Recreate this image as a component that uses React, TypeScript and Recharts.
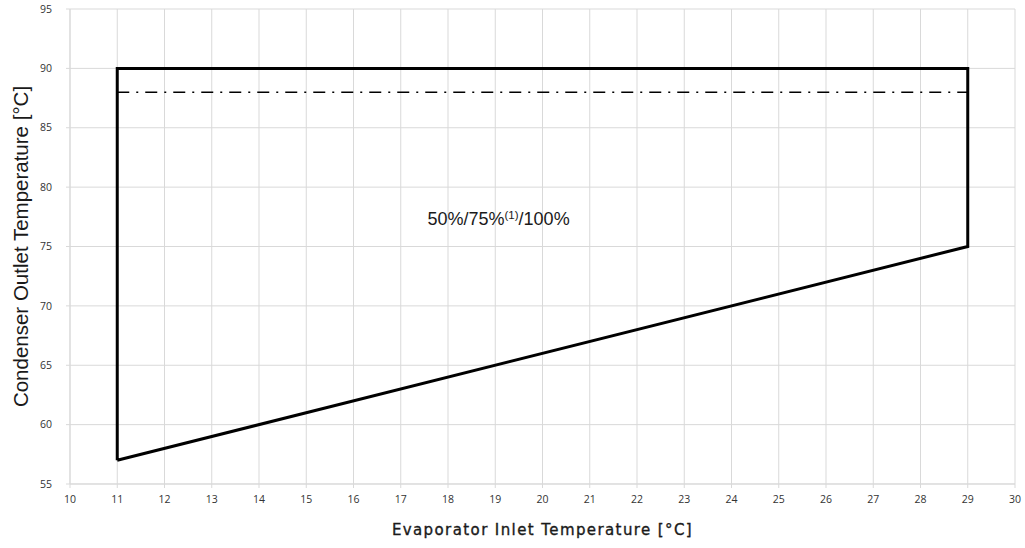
import {
  CartesianGrid,
  ComposedChart,
  Line,
  ReferenceDot,
  XAxis,
  YAxis,
} from "recharts";

// operating envelope, drawn in order and closed back to the first point
const envelopeX = [11, 11, 29, 29, 11];
const envelopeY = [57, 90, 90, 75, 57];

// dash-dot limit line
const limitX = [11, 29];
const limitY = [88, 88];

const xTicks = [10, 11, 12, 13, 14, 15, 16, 17, 18, 19, 20, 21, 22, 23, 24, 25, 26, 27, 28, 29, 30];
const yTicks = [55, 60, 65, 70, 75, 80, 85, 90, 95];

const noteX = 19.07;
const noteY = 77.3;

const envelope = envelopeX.map((x, i) => ({ x, y: envelopeY[i] }));
const limit = limitX.map((x, i) => ({ x, y: limitY[i] }));

const grey = "#d9d9d9";
const tickStyle = { fontSize: 10.5, fill: "#333", fontFamily: "'Open Sans', sans-serif" };

const Note = ({ cx, cy }: { cx?: number; cy?: number }) => (
  <text
    x={cx}
    y={cy}
    textAnchor="middle"
    dominantBaseline="central"
    fontFamily="'Liberation Sans', Arial, sans-serif"
    fontSize={18}
    fill="#1a1a1a"
  >
    50%/75%
    <tspan fontSize={11.5} dy={-4}>(1)</tspan>
    <tspan dy={4}>/100%</tspan>
  </text>
);

export default function App() {
  return (
    <div style={{ width: 1025, height: 548, background: "#fff" }}>
      <style>{`body{margin:0}`}</style>
      <ComposedChart
        width={1025}
        height={548}
        margin={{ top: 9, right: 10, bottom: 0, left: 0 }}
      >
        <CartesianGrid stroke={grey} strokeWidth={1} />
        <XAxis
          dataKey="x"
          type="number"
          domain={[10, 30]}
          ticks={xTicks}
          interval={0}
          height={64}
          stroke={grey}
          tickSize={4}
          tickMargin={8}
          tick={tickStyle}
          label={{
            value: "Evaporator Inlet Temperature [°C]",
            position: "insideBottom",
            offset: 13,
            style: {
              fontSize: 15,
              fill: "#1a1a1a",
              stroke: "#1a1a1a",
              strokeWidth: 0.35,
              fontFamily: "'DejaVu Sans', sans-serif",
              letterSpacing: 1.4,
              textAnchor: "middle",
            },
          }}
        />
        <YAxis
          type="number"
          domain={[55, 95]}
          ticks={yTicks}
          interval={0}
          width={70}
          stroke={grey}
          tickSize={4}
          tickMargin={14}
          tick={tickStyle}
          label={{
            value: "Condenser Outlet Temperature [°C]",
            angle: -90,
            position: "insideLeft",
            offset: 21,
            style: {
              fontSize: 20.5,
              fill: "#1a1a1a",
              fontFamily: "'Liberation Sans', Arial, sans-serif",
              textAnchor: "middle",
            },
          }}
        />
        <Line
          data={limit}
          dataKey="y"
          stroke="#000"
          strokeWidth={1.5}
          strokeDasharray="12 7 2 7"
          dot={false}
          activeDot={false}
          isAnimationActive={false}
        />
        <Line
          data={envelope}
          dataKey="y"
          stroke="#000"
          strokeWidth={3}
          strokeLinejoin="miter"
          dot={false}
          activeDot={false}
          isAnimationActive={false}
        />
        <ReferenceDot x={noteX} y={noteY} r={0} shape={(p: any) => <Note cx={p.cx} cy={p.cy} />} />
      </ComposedChart>
    </div>
  );
}
